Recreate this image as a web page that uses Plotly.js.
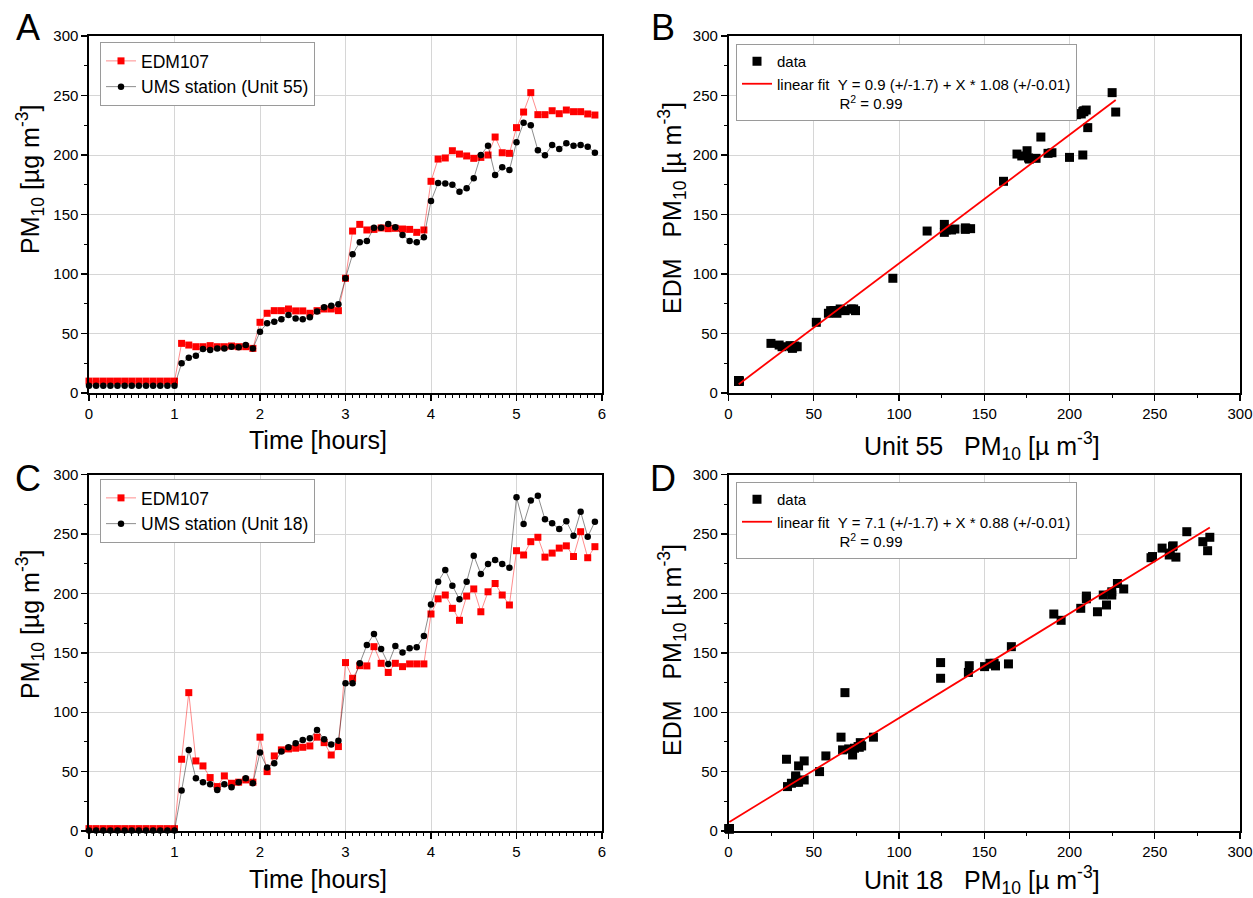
<!DOCTYPE html>
<html>
<head>
<meta charset="utf-8">
<script src="https://cdn.plot.ly/plotly-3.0.1.min.js"></script>
<style>html,body{margin:0;padding:0;background:#fff;}#chart{width:1253px;height:898px;}</style>
</head>
<body>
<div id="chart"></div>
<script>
// ---- data ----
const timeHours = [0,0.083,0.167,0.25,0.333,0.417,0.5,0.583,0.667,0.75,0.833,0.917,
  1,1.083,1.167,1.25,1.333,1.417,1.5,1.583,1.667,1.75,1.833,1.917,
  2,2.083,2.167,2.25,2.333,2.417,2.5,2.583,2.667,2.75,2.833,2.917,
  3,3.083,3.167,3.25,3.333,3.417,3.5,3.583,3.667,3.75,3.833,3.917,
  4,4.083,4.167,4.25,4.333,4.417,4.5,4.583,4.667,4.75,4.833,4.917,
  5,5.083,5.167,5.25,5.333,5.417,5.5,5.583,5.667,5.75,5.833,5.917];

const edmA = [10,10,10,10,10,10,10,10,10,10,10,10,10,
  41.7,40.3,38.9,38.9,39.8,38.9,38.9,39.5,38.9,38.9,37.5,
  59.4,67,69.2,69.2,70.6,69,69,67,69.2,70.6,70.6,69.2,
  96.4,136.1,141.7,137,137.5,138.7,138.1,138.4,137.8,137.5,135,137,
  177.9,196.6,197.5,203.6,200.8,199.2,197.2,198,200,215.1,201.9,201.4,
  223,236.1,252.4,233.9,233.9,237.2,234.7,237.8,236.4,236.4,234.5,233.6];
const umsA = [6,6,6,6,6,6,6,6,6,6,6,6,6,
  24.9,29.7,31.4,37,36.1,37.5,37.5,38.9,38.4,40.3,37.5,
  51.5,58.6,59.9,61.9,65.5,62.7,61.9,63.6,68.4,72,73.4,74.5,
  96.4,116.5,126.6,127.7,138.9,138.9,142,139.2,132.8,127.7,126.6,130.8,
  161.3,176.5,176,175.1,169.2,172,180.4,200,207.8,183.2,189.7,187.4,
  210.7,227.1,225,204,199.7,208.4,205,209.8,207.8,208.4,206.9,201.9];

const edmC = [2,2,2,2,2,2,2,2,2,2,2,2,2,
  60.4,116.5,59,54.8,45,37.4,46.4,40.2,41.1,43,41.1,
  79,50,63.2,68.3,69.1,69.7,70.5,71.6,79,74.4,64,71.1,
  141.8,128.6,139.2,139,155.2,141.2,133.5,141.2,138.4,140.7,140.7,140.7,
  182.7,195.5,198.7,187.5,177.4,197.8,203.8,184.6,201.4,208.4,198.7,190.3,
  236,232.4,243.6,247.3,230.6,234,238.2,240.1,231.1,252,230.1,239.4];
const umsC = [0.5,0.5,0.5,0.5,0.5,0.5,0.5,0.5,0.5,0.5,0.5,0.5,0.5,
  34,68.3,44.4,41.1,39.4,34.6,39.4,36.9,41.1,44.4,40.2,
  66,53.4,57.1,66.9,70.5,73.9,76.7,78.1,85,77.3,72.8,76,
  124.4,124.4,141.2,156.6,165.9,153.3,140.7,155.8,150.2,153.9,154.7,164.2,
  190.8,209.9,219.8,206.6,195.1,209.9,231.8,216.4,224.8,228.1,224.8,221.7,
  281,258.5,278.2,282.3,262.4,259.1,254.3,260.8,248.7,268.8,247.8,260.4];

// linear fit coefficients (from the legends)
const fitB = {intercept: 0.9, slope: 1.08};
const fitD = {intercept: 7.1, slope: 0.88};

const seriesNames = ['EDM107', 'UMS station (Unit 55)', 'UMS station (Unit 18)'];
const NB = '\u00a0';
const fitNameB = 'linear fit' + NB + NB + 'Y = 0.9 (+/-1.7) + X * 1.08 (+/-0.01)<br>' + NB.repeat(15) + 'R<sup>2</sup> = 0.99';
const fitNameD = 'linear fit' + NB + NB + 'Y = 7.1 (+/-1.7) + X * 0.88 (+/-0.01)<br>' + NB.repeat(15) + 'R<sup>2</sup> = 0.99';

// ---- helpers ----
function fitLine(xs, fit) {
  const lo = Math.min(...xs), hi = Math.max(...xs);
  return {x: [lo, hi], y: [fit.intercept + fit.slope * lo, fit.intercept + fit.slope * hi]};
}
const W = 1253, H = 898;
const px = v => v / W, py = v => 1 - v / H;

const fB = fitLine(umsA, fitB), fD = fitLine(umsC, fitD);

const traces = [
  {x: timeHours, y: edmA, name: seriesNames[0], mode: 'lines+markers', xaxis: 'x', yaxis: 'y', legend: 'legend',
   line: {color: 'rgba(255,0,0,0.5)', width: 0.9}, marker: {symbol: 'square', size: 7, color: '#ff0000'}, cliponaxis: false},
  {x: timeHours, y: umsA, name: seriesNames[1], mode: 'lines+markers', xaxis: 'x', yaxis: 'y', legend: 'legend',
   line: {color: 'rgba(0,0,0,0.5)', width: 0.9}, marker: {symbol: 'circle', size: 6.5, color: '#000'}, cliponaxis: false},
  {x: umsA, y: edmA, name: 'data', mode: 'markers', xaxis: 'x2', yaxis: 'y2', legend: 'legend2',
   marker: {symbol: 'square', size: 9, color: '#000'}, cliponaxis: false},
  {x: fB.x, y: fB.y, name: fitNameB, mode: 'lines', xaxis: 'x2', yaxis: 'y2', legend: 'legend2',
   line: {color: '#ff0000', width: 1.8}},
  {x: timeHours, y: edmC, name: seriesNames[0], mode: 'lines+markers', xaxis: 'x3', yaxis: 'y3', legend: 'legend3',
   line: {color: 'rgba(255,0,0,0.5)', width: 0.9}, marker: {symbol: 'square', size: 7, color: '#ff0000'}, cliponaxis: false},
  {x: timeHours, y: umsC, name: seriesNames[2], mode: 'lines+markers', xaxis: 'x3', yaxis: 'y3', legend: 'legend3',
   line: {color: 'rgba(0,0,0,0.5)', width: 0.9}, marker: {symbol: 'circle', size: 6.5, color: '#000'}, cliponaxis: false},
  {x: umsC, y: edmC, name: 'data', mode: 'markers', xaxis: 'x4', yaxis: 'y4', legend: 'legend4',
   marker: {symbol: 'square', size: 9, color: '#000'}, cliponaxis: false},
  {x: fD.x, y: fD.y, name: fitNameD, mode: 'lines', xaxis: 'x4', yaxis: 'y4', legend: 'legend4',
   line: {color: '#ff0000', width: 1.8}}
];

const FONT = 'Liberation Sans, Arial, sans-serif';
function axis(domain, range, dtick, minorD, anchor) {
  return {
    domain: domain, range: range, dtick: dtick, tick0: 0, anchor: anchor,
    showline: true, mirror: true, linecolor: '#000', linewidth: 1.6,
    ticks: 'outside', ticklen: 6, tickwidth: 1.4, tickcolor: '#000',
    showgrid: true, gridcolor: '#d6d6d6', gridwidth: 1, zeroline: false,
    tickfont: {family: FONT, size: 15, color: '#000'},
    minor: {dtick: minorD, ticks: 'outside', ticklen: 3, tickwidth: 1, tickcolor: '#000', showgrid: false},
    automargin: false, fixedrange: true
  };
}
const xL = [px(89), px(602)], xR = [px(728.5), px(1240)];
const yT = [py(393), py(36)], yB = [py(831), py(474.7)];

function legendBox(x, y, size, valign) {
  return {x: px(x), y: py(y), xanchor: 'left', yanchor: 'top', xref: 'paper', yref: 'paper',
    bgcolor: '#fff', bordercolor: '#9a9a9a', borderwidth: 1,
    font: {family: FONT, size: size, color: '#000'}, valign: valign, tracegroupgap: 0};
}

function ann(text, x, y, size, angle) {
  return {text: text, x: px(x), y: py(y), xref: 'paper', yref: 'paper', showarrow: false,
    xanchor: 'center', yanchor: 'middle', textangle: angle || 0,
    font: {family: FONT, size: size, color: '#000'}};
}
const pmUg = 'PM<sub>10</sub> [µg m<sup>-3</sup>]';
const pmU = 'PM<sub>10</sub> [µ m<sup>-3</sup>]';

const layout = {
  width: W, height: H, margin: {l: 0, r: 0, t: 0, b: 0},
  paper_bgcolor: '#fff', plot_bgcolor: '#fff',
  font: {family: FONT, color: '#000'},
  xaxis: axis(xL, [0, 6], 1, 1 / 12, 'y'),
  yaxis: axis(yT, [0, 300], 50, 25, 'x'),
  xaxis2: axis(xR, [0, 300], 50, 25, 'y2'),
  yaxis2: axis(yT, [0, 300], 50, 25, 'x2'),
  xaxis3: axis(xL, [0, 6], 1, 1 / 12, 'y3'),
  yaxis3: axis(yB, [0, 300], 50, 25, 'x3'),
  xaxis4: axis(xR, [0, 300], 50, 25, 'y4'),
  yaxis4: axis(yB, [0, 300], 50, 25, 'x4'),
  legend: legendBox(100, 42, 17.5, 'middle'),
  legend2: legendBox(736, 44, 15, 'top'),
  legend3: legendBox(100, 479, 17.5, 'middle'),
  legend4: legendBox(736, 482, 15, 'top'),
  annotations: [
    ann('A', 28, 27, 36), ann('B', 663, 27, 36), ann('C', 28, 478, 36), ann('D', 663, 478, 36),
    ann(pmUg, 30, 180, 25, -90), ann('EDM' + NB + NB + NB + pmU, 672, 208, 25, -90),
    ann(pmUg, 30, 625, 25, -90), ann('EDM' + NB + NB + NB + pmU, 672, 650, 25, -90),
    ann('Time [hours]', 318, 440, 25), ann('Unit 55' + NB + NB + NB + pmU, 982, 446, 25),
    ann('Time [hours]', 318, 879, 25), ann('Unit 18' + NB + NB + NB + pmU, 982, 880, 25)
  ],
  showlegend: true
};

Plotly.newPlot('chart', traces, layout, {displayModeBar: false, staticPlot: true});
</script>
</body>
</html>
